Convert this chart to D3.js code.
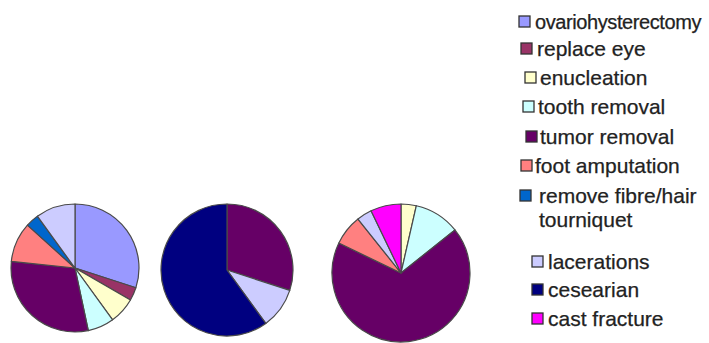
<!DOCTYPE html>
<html>
<head>
<meta charset="utf-8">
<script src="https://cdn.jsdelivr.net/npm/d3@7/dist/d3.min.js"></script>
<style>
  html, body { margin: 0; padding: 0; background: #fff; }
  svg { display: block; }
  .legend text { font-family: "Liberation Sans", Arial, sans-serif; font-size: 21px; fill: #222; stroke: #222; stroke-width: 0.25px; }
</style>
</head>
<body>
<svg id="chart" width="709" height="343"></svg>
<script>
// Procedure categories and their fill colours
const categories = [
  "ovariohysterectomy", "replace eye", "enucleation", "tooth removal",
  "tumor removal", "foot amputation", "remove fibre/hair tourniquet",
  "lacerations", "cesearian", "cast fracture"
];
const colors = [
  "#9999FF", "#993366", "#FFFFCC", "#CCFFFF",
  "#660066", "#FF8080", "#0066CC",
  "#CCCCFF", "#000080", "#FF00FF"
];

// Case counts per procedure for each of the three pies (0 = not present)
const pieA = [9, 1, 2, 2, 9, 3, 1, 3, 0, 0];
const pieB = [0, 0, 0, 0, 3, 0, 0, 1, 6, 0];
const pieC = [0, 0, 1, 3, 19, 2, 0, 1, 0, 2];

// Legend rows: label lines, row centre y, swatch x, text x
const legendRows = [
  { lines: ["ovariohysterectomy"], y: 22, sx: 519, tx: 535 },
  { lines: ["replace eye"], y: 49, sx: 521, tx: 537 },
  { lines: ["enucleation"], y: 78, sx: 525, tx: 540 },
  { lines: ["tooth removal"], y: 107, sx: 523, tx: 538 },
  { lines: ["tumor removal"], y: 137, sx: 526, tx: 540 },
  { lines: ["foot amputation"], y: 166, sx: 521, tx: 535 },
  { lines: ["remove fibre/hair", "tourniquet"], y: 196, sx: 520, tx: 539 },
  { lines: ["lacerations"], y: 262, sx: 532, tx: 548 },
  { lines: ["cesearian"], y: 290, sx: 532, tx: 548 },
  { lines: ["cast fracture"], y: 319, sx: 532, tx: 548 }
];

const W = 709;
const svg = d3.select("#chart");

const pies = [
  { values: pieA, cx: 75, cy: 268, r: 64 },
  { values: pieB, cx: 227, cy: 270, r: 66 },
  { values: pieC, cx: 401, cy: 273, r: 69 }
];

const pieGen = d3.pie().sort(null).value(d => d.v);

pies.forEach(p => {
  const data = p.values.map((v, i) => ({ v, i })).filter(d => d.v > 0);
  const arc = d3.arc().innerRadius(0).outerRadius(p.r);
  const g = svg.append("g").attr("transform", `translate(${p.cx},${p.cy})`);
  g.selectAll("path")
    .data(pieGen(data))
    .join("path")
    .attr("d", arc)
    .attr("fill", d => colors[d.data.i])
    .attr("stroke", "#4a4a4a")
    .attr("stroke-width", 1.2)
    .attr("stroke-linejoin", "round");
});

// Legend
const lg = svg.append("g").attr("class", "legend");
legendRows.forEach(row => {
  const idx = categories.indexOf(row.lines.join(" "));
  lg.append("rect")
    .attr("x", row.sx).attr("y", row.y - 6)
    .attr("width", 11).attr("height", 11)
    .attr("fill", colors[idx])
    .attr("stroke", "#333").attr("stroke-width", 1.3);
  row.lines.forEach((line, k) => {
    const t = lg.append("text")
      .attr("x", row.tx)
      .attr("y", row.y + 7 + k * 24)
      .text(line);
    // tighten a label that would run past the right edge
    const avail = W - 8 - row.tx;
    const len = t.node().getComputedTextLength();
    if (len > avail) {
      t.style("font-size", "20px");
      const len20 = t.node().getComputedTextLength();
      const sp = (avail - len20) / line.length;
      t.style("letter-spacing", `${sp.toFixed(2)}px`);
    }
  });
});
</script>
</body>
</html>
